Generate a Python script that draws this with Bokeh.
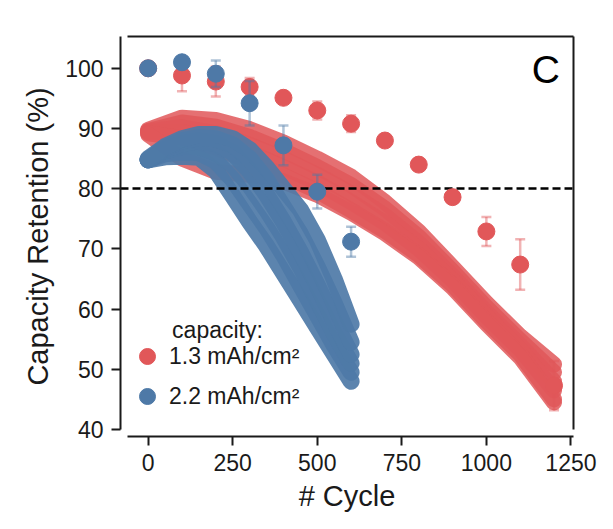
from bokeh.plotting import figure
from bokeh.models import Range1d, LinearAxis, FixedTicker, Legend, LegendItem, Label
from bokeh.embed import file_html
from bokeh.resources import INLINE

# ---------------- data ----------------
point_cycles_red = [0, 100, 200, 300, 400, 500, 600, 700, 800, 900, 1000, 1100, 1200]
red_mean = [100.0, 98.8, 97.8, 96.9, 95.1, 93.0, 90.8, 88.0, 84.0, 78.6, 72.9, 67.4, 47.3]
red_err = [0.3, 2.6, 2.5, 1.5, 0.5, 1.5, 1.4, 0.5, 0.5, 0.4, 2.4, 4.2, 4.1]

point_cycles_blue = [0, 100, 200, 300, 400, 500, 600]
blue_mean = [100.0, 101.0, 99.1, 94.2, 87.2, 79.5, 71.2]
blue_err = [0.3, 0.5, 2.2, 3.7, 3.3, 2.8, 2.5]

# individual cell traces (1.3 mAh/cm2)
red_trace_cycles = [0, 100, 200, 300, 400, 500, 600, 700, 800, 900, 1000, 1100, 1200]
red_cell_1 = [89.8, 91.8, 91.4, 89.9, 87.7, 85.0, 82.0, 77.8, 72.9, 67.0, 61.0, 55.5, 50.8]
red_cell_2 = [89.6, 91.0, 90.3, 88.6, 86.3, 83.6, 80.6, 76.7, 72.0, 66.3, 60.3, 54.8, 49.5]
red_cell_3 = [89.5, 90.2, 89.2, 87.3, 85.0, 82.3, 79.2, 75.5, 71.0, 65.5, 59.5, 54.0, 48.0]
red_cell_4 = [89.4, 89.4, 88.0, 86.0, 83.6, 81.0, 77.8, 74.3, 70.0, 64.8, 58.8, 53.3, 46.5]
red_cell_5 = [89.2, 88.4, 86.8, 84.5, 82.2, 79.6, 76.4, 73.0, 69.0, 64.0, 58.0, 52.5, 45.0]
red_cell_6 = [89.0, 85.0, 82.8, 82.3, 81.2, 79.0, 76.0, 72.6, 68.6, 63.6, 57.6, 52.0, 44.5]

# individual cell traces (2.2 mAh/cm2)
blue_trace_cycles = [0, 50, 100, 150, 200, 250, 300, 350, 400, 450, 500, 550, 600]
blue_cell_1 = [84.8, 85.3, 85.4, 85.2, 83.0, 78.8, 74.5, 70.5, 66.0, 61.5, 57.0, 52.5, 48.0]
blue_cell_2 = [84.8, 85.8, 86.1, 86.0, 84.6, 81.5, 77.5, 73.5, 69.0, 64.0, 59.0, 54.0, 49.5]
blue_cell_3 = [84.8, 86.3, 87.0, 87.0, 86.0, 84.0, 80.5, 76.5, 72.0, 67.0, 61.5, 56.0, 51.0]
blue_cell_4 = [84.8, 86.5, 87.5, 88.0, 87.5, 86.0, 83.0, 79.0, 74.5, 69.5, 64.0, 58.0, 52.5]
blue_cell_5 = [84.8, 86.8, 88.0, 88.5, 88.3, 87.3, 85.0, 81.5, 77.0, 72.5, 67.0, 61.0, 54.5]
blue_cell_6 = [85.0, 87.0, 88.3, 89.0, 89.0, 88.3, 86.5, 83.5, 80.0, 76.5, 71.5, 65.0, 57.5]

threshold = [80]
x_ticks = [0, 250, 500, 750, 1000, 1250]
y_ticks = [40, 50, 60, 70, 80, 90, 100]
labels = ["1.3 mAh/cm\u00b2", "2.2 mAh/cm\u00b2"]

RED = "#e15759"
BLUE = "#4e79a7"
FONT = "Liberation Sans"
TXT = "#1a1a1a"

X0, X1 = -81.8, 1257.6
Y0, Y1 = 38.84, 105.28

p = figure(width=605, height=521, x_range=Range1d(X0, X1), y_range=Range1d(Y0, Y1),
           output_backend="svg", toolbar_location=None,
           min_border_left=120, min_border_right=32, min_border_top=36, min_border_bottom=85)
p.outline_line_color = None
p.xgrid.visible = False
p.ygrid.visible = False
p.background_fill_color = "white"
p.border_fill_color = "white"

# bands of individual cells
p.multi_line(xs=[red_trace_cycles] * 6,
             ys=[red_cell_1, red_cell_2, red_cell_3, red_cell_4, red_cell_5, red_cell_6],
             line_color=RED, line_width=16, line_alpha=0.85, line_cap="round", line_join="round")
p.multi_line(xs=[blue_trace_cycles] * 6,
             ys=[blue_cell_1, blue_cell_2, blue_cell_3, blue_cell_4, blue_cell_5, blue_cell_6],
             line_color=BLUE, line_width=17, line_alpha=0.92, line_cap="round", line_join="round")

# 80 % line
p.hspan(y=threshold, line_color="black", line_width=2.3, line_dash="8 4")

def errorbars(xs, means, errs, color):
    lo = [m - e for m, e in zip(means, errs)]
    hi = [m + e for m, e in zip(means, errs)]
    p.segment(x0=xs, y0=lo, x1=xs, y1=hi, line_color=color, line_width=2.5, line_alpha=0.45)
    p.scatter(x=xs + xs, y=lo + hi, marker="dash", size=10, line_color=color,
              line_width=2.5, line_alpha=0.45)

errorbars(point_cycles_red, red_mean, red_err, RED)
r_red = p.scatter(x=point_cycles_red, y=red_mean, size=17, fill_color=RED, line_color=RED)
errorbars(point_cycles_blue, blue_mean, blue_err, BLUE)
r_blue = p.scatter(x=point_cycles_blue, y=blue_mean, size=17, fill_color=BLUE, line_color=BLUE)

# axes styling
def style_axis(ax):
    ax.axis_line_width = 2
    ax.axis_line_color = TXT
    ax.major_tick_line_width = 2
    ax.major_tick_line_color = TXT
    ax.major_tick_out = 9
    ax.major_tick_in = 0
    ax.minor_tick_out = 0
    ax.minor_tick_in = 0
    ax.major_label_text_font = FONT
    ax.major_label_text_font_size = "23px"
    ax.major_label_text_color = TXT
    ax.axis_label_text_font = FONT
    ax.axis_label_text_font_size = "29px"
    ax.axis_label_text_font_style = "normal"
    ax.axis_label_text_color = TXT

xa = p.xaxis[0]
xa.ticker = FixedTicker(ticks=x_ticks)
xa.bounds = (-61.0, X1)
xa.axis_label = "# Cycle"
style_axis(xa)
xa.major_label_standoff = 8
xa.axis_label_standoff = 6

ya = p.yaxis[0]
ya.ticker = FixedTicker(ticks=y_ticks)
ya.bounds = (40, Y1)
ya.axis_label = "Capacity Retention (%)"
style_axis(ya)
ya.major_label_standoff = 8
ya.axis_label_standoff = 8

top = LinearAxis(ticker=FixedTicker(ticks=[]), bounds=(-61.0, X1))
style_axis(top)
top.major_label_text_font_size = "1px"
p.add_layout(top, "above")
right = LinearAxis(ticker=FixedTicker(ticks=[]), bounds=(40, Y1))
style_axis(right)
right.major_label_text_font_size = "1px"
p.add_layout(right, "right")

# legend
legend = Legend(items=[LegendItem(label=labels[0], renderers=[r_red]),
                       LegendItem(label=labels[1], renderers=[r_blue])],
                location=(7, 20), glyph_width=40, glyph_height=40, spacing=-5,
                padding=0, margin=0, border_line_color=None, background_fill_alpha=0,
                label_text_font=FONT, label_text_font_size="23px", label_text_color=TXT,
                label_standoff=2)
p.add_layout(legend)
p.add_layout(Label(x=205, y=56.6, text="capacity:", text_font=FONT, text_font_size="23px",
                   text_color=TXT, text_align="center", text_baseline="middle"))
p.add_layout(Label(x=1176, y=99.8, text="C", text_font=FONT, text_font_size="39px",
                   text_color="black", text_align="center", text_baseline="middle"))

open("out.html", "w").write(file_html(p, INLINE))
